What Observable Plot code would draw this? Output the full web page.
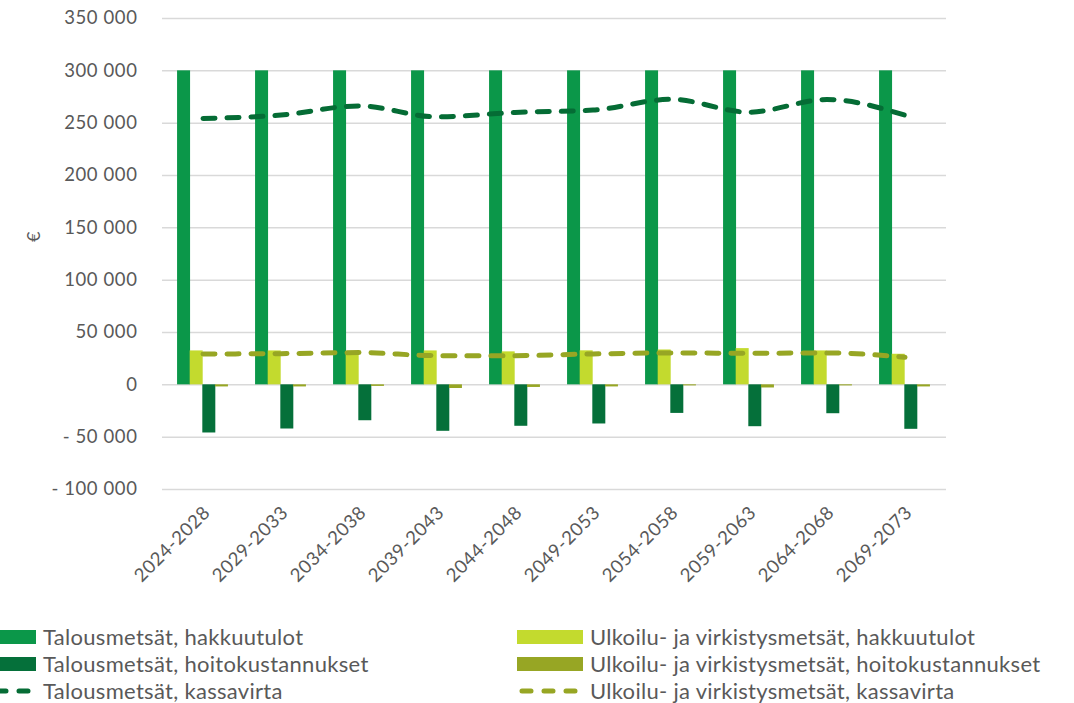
<!DOCTYPE html>
<html>
<head>
<meta charset="utf-8">
<script src="https://cdn.jsdelivr.net/npm/d3@7"></script>
<script src="https://cdn.jsdelivr.net/npm/@observablehq/plot@0.6"></script>
<style>
  html, body { margin: 0; padding: 0; background: #fff; }
  body { width: 1074px; height: 703px; overflow: hidden; font-family: Lato, "Open Sans", sans-serif; }
  #chart svg { font-family: Lato, "Open Sans", sans-serif; letter-spacing: 0.6px; }
  #legend { position: relative; width: 1074px; height: 88px; color: #595959; font-size: 22px; letter-spacing: 0.3px; }
  .item { position: absolute; display: flex; align-items: center; height: 27px; white-space: nowrap; }
  .item svg { margin-right: 7px; flex: none; }
</style>
</head>
<body>
<div id="chart"></div>
<div id="legend"></div>
<script>
const periods = ["2024-2028","2029-2033","2034-2038","2039-2043","2044-2048","2049-2053","2054-2058","2059-2063","2064-2068","2069-2073"];
const talousHakkuutulot = [300000,300000,300000,300000,300000,300000,300000,300000,300000,300000];
const ulkoiluHakkuutulot = [32400,32400,32000,32400,31500,32500,33300,34600,32400,29200];
const talousHoito = [-46000,-42200,-34300,-44400,-39600,-37400,-27300,-40000,-27600,-42500];
const ulkoiluHoito = [-2000,-2000,-1500,-3500,-2500,-2000,-1000,-3000,-1000,-2000];
const talousKassavirta = [254500,257700,266500,256000,260200,262500,272800,260500,272600,257600];
const ulkoiluKassavirta = [29500,29800,30800,27900,27900,29500,30500,30100,30500,26400];
const yTicks = [-100000,-50000,0,50000,100000,150000,200000,250000,300000,350000];

const seriesNames = [
  "Talousmetsät, hakkuutulot",
  "Talousmetsät, hoitokustannukset",
  "Talousmetsät, kassavirta",
  "Ulkoilu- ja virkistysmetsät, hakkuutulot",
  "Ulkoilu- ja virkistysmetsät, hoitokustannukset",
  "Ulkoilu- ja virkistysmetsät, kassavirta"
];
const colors = {
  talousHakkuu: "#0b9749",
  talousHoito: "#05703a",
  talousKassa: "#056c35",
  ulkoiluHakkuu: "#c3da2e",
  ulkoiluHoito: "#97a624",
  ulkoiluKassa: "#97a624"
};

const rows = arr => periods.map((p, i) => ({period: p, value: arr[i]}));

const bw = 78.4 * (1 - 0.839);
const fmtNum = v => d3.format(",")(v).replace(/,/g, " ");
const fmt = v => v < 0 ? "- " + fmtNum(-v) : fmtNum(v);

const dash = {strokeDasharray: "12,12", strokeLinecap: "round", strokeWidth: 5, curve: "monotone-x"};

const chart = Plot.plot({
  width: 1074,
  height: 615,
  marginLeft: 162,
  marginRight: 128,
  marginTop: 18,
  marginBottom: 126,
  x: {domain: periods, paddingInner: 0.839, paddingOuter: 0.4195, label: null},
  y: {domain: [-100000, 350000], label: null},
  style: {fontSize: "18px", color: "#595959"},
  marks: [
    Plot.gridY(yTicks, {stroke: "#d9d9d9", strokeOpacity: 1, strokeWidth: 1.5}),
    Plot.barY(rows(talousHakkuutulot), {x: "period", y: "value", fill: colors.talousHakkuu, dx: -1.5 * bw - 1}),
    Plot.barY(rows(ulkoiluHakkuutulot), {x: "period", y: "value", fill: colors.ulkoiluHakkuu, dx: -0.5 * bw - 1}),
    Plot.barY(rows(talousHoito), {x: "period", y: "value", fill: colors.talousHoito, dx: 0.5 * bw - 1}),
    Plot.barY(rows(ulkoiluHoito), {x: "period", y: "value", fill: colors.ulkoiluHoito, dx: 1.5 * bw - 1}),
    Plot.lineY(rows(talousKassavirta), {x: "period", y: "value", stroke: colors.talousKassa, dx: -1, ...dash}),
    Plot.lineY(rows(ulkoiluKassavirta), {x: "period", y: "value", stroke: colors.ulkoiluKassa, dx: -1, ...dash}),
    Plot.axisY(yTicks, {tickSize: 0, tickPadding: 25, tickFormat: fmt, fill: "#595959", fontSize: 18.5, label: null}),
    Plot.axisX({tickSize: 0, tickPadding: 20, tickRotate: -45, fill: "#595959", fontSize: 18.5, label: null, dx: 3}),
    Plot.text(["€"], {frameAnchor: "left", dx: -128, dy: -12, rotate: -90, fill: "#595959", fontSize: 18})
  ]
});
document.getElementById("chart").appendChild(chart);

// Legend
const legend = document.getElementById("legend");
const items = [
  {name: seriesNames[0], type: "bar", color: colors.talousHakkuu, col: 0, row: 0},
  {name: seriesNames[1], type: "bar", color: colors.talousHoito, col: 0, row: 1},
  {name: seriesNames[2], type: "line", color: colors.talousKassa, col: 0, row: 2},
  {name: seriesNames[3], type: "bar", color: colors.ulkoiluHakkuu, col: 1, row: 0},
  {name: seriesNames[4], type: "bar", color: colors.ulkoiluHoito, col: 1, row: 1},
  {name: seriesNames[5], type: "line", color: colors.ulkoiluKassa, col: 1, row: 2}
];
const colLeft = [-30, 517];
items.forEach(it => {
  const div = document.createElement("div");
  div.className = "item";
  div.style.left = colLeft[it.col] + "px";
  div.style.top = (8 + it.row * 27) + "px";
  const sw = it.type === "bar"
    ? `<svg width="66" height="16"><rect x="0" y="1" width="66" height="14" fill="${it.color}"/></svg>`
    : `<svg width="66" height="16"><line x1="5" y1="8" x2="63" y2="8" stroke="${it.color}" stroke-width="5" stroke-linecap="round" stroke-dasharray="9,13"/></svg>`;
  div.innerHTML = sw + `<span>${it.name}</span>`;
  legend.appendChild(div);
});
</script>
</body>
</html>
